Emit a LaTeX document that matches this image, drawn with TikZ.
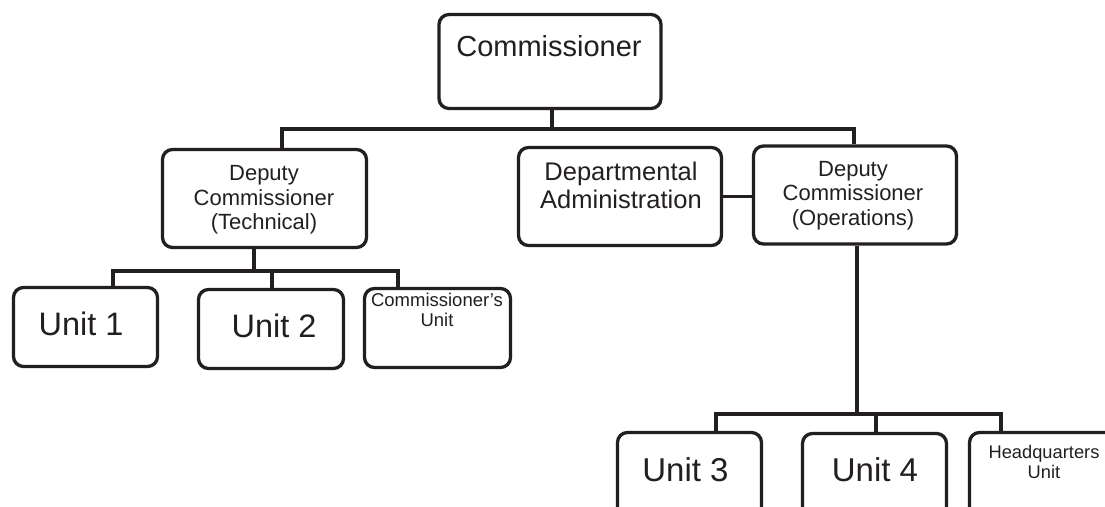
\documentclass[tikz,border=0pt]{standalone}
\usepackage{fontspec}
\setmainfont{Liberation Sans}
\definecolor{ink}{HTML}{231F20}
\begin{document}
\begin{tikzpicture}[x=1pt,y=-1pt,
  box/.style={draw=ink,line width=3.3pt,rounded corners=10pt,fill=white,
    inner sep=0pt,minimum width=#1},
  box/.default=145pt,
  txt/.style={text=ink,inner sep=0pt,anchor=base,align=center},
  conn/.style={draw=ink,line width=3.2pt}]
\useasboundingbox (0,0) rectangle (1105,506);
\clip (0,0) rectangle (1105,506);
\fill[white] (0,0) rectangle (1105,506);
% coordinates for buses
\coordinate (b1L) at (282,129);
\coordinate (b1M) at (552,129);
\coordinate (b1R) at (854,129);
\coordinate (b2L) at (113,271);
\coordinate (b2M) at (254,271);
\coordinate (b2C) at (272,271);
\coordinate (b2R) at (398,271);
\coordinate (b3L) at (716,414);
\coordinate (b3M) at (857,414);
\coordinate (b3C) at (876,414);
\coordinate (b3R) at (1001,414);
% boxes
\node[box=222pt,minimum height=94pt] (com) at (550,61.5) {};
\node[box=204pt,minimum height=98pt] (dt) at (264.5,198.5) {};
\node[box=203pt,minimum height=98pt] (da) at (620,196.5) {};
\node[box=203pt,minimum height=98pt] (do) at (855,195) {};
\node[box=144pt,minimum height=79pt] (u1) at (85.5,327) {};
\node[box=145pt,minimum height=79pt] (u2) at (271,329) {};
\node[box=146pt,minimum height=79pt] (cu) at (437.5,328) {};
\node[box=144pt,minimum height=100pt] (u3) at (689.5,482.5) {};
\node[box=144pt,minimum height=100pt] (u4) at (874.5,483.5) {};
\node[box=154pt,minimum height=100pt] (hq) at (1046.5,482.5) {};
% connectors
\draw[conn] (com.south -| b1M) -- (b1M);
\draw[conn] (dt.north -| b1L) -- (b1L) -- (b1R) -- (b1R |- do.north);
\draw[conn] (da.east) -- (da.east -| do.west);
\draw[conn] (dt.south -| b2M) -- (b2M);
\draw[conn] (u1.north -| b2L) -- (b2L) -- (b2R) -- (b2R |- cu.north);
\draw[conn] (b2C) -- (b2C |- u2.north);
\draw[conn] (do.south -| b3M) -- (b3M);
\draw[conn] (u3.north -| b3L) -- (b3L) -- (b3R) -- (b3R |- hq.north);
\draw[conn] (b3C) -- (b3C |- u4.north);
% texts (anchor = baseline of last line)
\node[txt,font=\fontsize{29}{32}\selectfont] (comT) at (549,56.5) {Commissioner};
\node[txt,font=\fontsize{22}{24.5}\selectfont] (dtT) at (264,229.7) {Deputy\\Commissioner\\(Technical)};
\node[txt,font=\fontsize{25.5}{28}\selectfont] (daT) at (621,208) {Departmental\\Administration};
\node[txt,font=\fontsize{22}{24.2}\selectfont] (doT) at (853,225.1) {Deputy\\Commissioner\\(Operations)};
\node[txt,font=\fontsize{32.5}{36}\selectfont] (u1T) at (81,335) {Unit 1};
\node[txt,font=\fontsize{32.5}{36}\selectfont] (u2T) at (274,337) {Unit 2};
\node[txt,font=\fontsize{18.5}{20}\selectfont] (cuT) at (437,326.7) {Commissioner’s\\Unit};
\node[txt,font=\fontsize{33}{36}\selectfont] (u3T) at (685.5,481.7) {Unit 3};
\node[txt,font=\fontsize{33}{36}\selectfont] (u4T) at (875,481.7) {Unit 4};
\node[txt,font=\fontsize{18.3}{20}\selectfont] (hqT) at (1044,478) {Headquarters\\Unit};
\end{tikzpicture}
\end{document}
